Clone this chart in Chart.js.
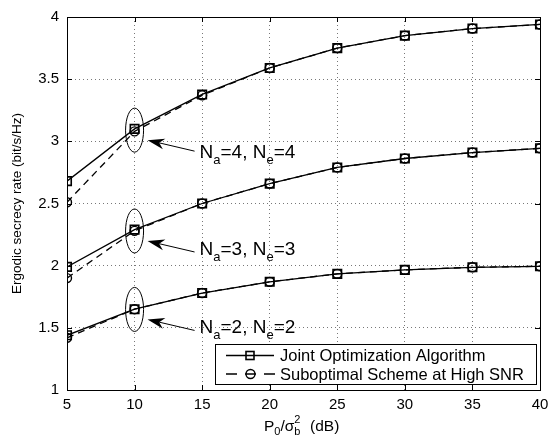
<!DOCTYPE html>
<html lang="en">
<head>
  <meta charset="UTF-8">
  <title>Ergodic secrecy rate</title>
  <script src="https://cdn.jsdelivr.net/npm/chart.js"></script>
  <style>
    body { margin: 0; background: #fff; }
    #wrap { width: 556px; height: 438px; }
  </style>
</head>
<body>
  <div id="wrap"><canvas id="rateChart" width="556" height="438"></canvas></div>

  <script>
    const snr = [5, 10, 15, 20, 25, 30, 35, 40];

    const joint4 = [2.68, 3.10, 3.377, 3.59, 3.75, 3.85, 3.907, 3.94];
    const subopt4 = [2.51, 3.08, 3.37, 3.59, 3.75, 3.85, 3.907, 3.94];
    const joint3 = [1.99, 2.29, 2.50, 2.66, 2.79, 2.862, 2.91, 2.944];
    const subopt3 = [1.90, 2.28, 2.50, 2.66, 2.79, 2.862, 2.91, 2.944];
    const joint2 = [1.44, 1.65, 1.78, 1.87, 1.934, 1.966, 1.987, 1.995];
    const subopt2 = [1.42, 1.65, 1.78, 1.87, 1.934, 1.966, 1.987, 1.995];

    const legendNames = ['Joint Optimization Algorithm', 'Suboptimal Scheme at High SNR'];
    const groupAntennas = [4, 3, 2];
    const groupCentres = [3.09, 2.279, 1.648];

    const FONT = '"Liberation Sans", Arial, sans-serif';

    function pts(ys) {
      return snr.map((x, i) => ({ x: x, y: ys[i] }));
    }

    function jointSet(ys) {
      return {
        data: pts(ys),
        borderColor: '#000',
        borderWidth: 1.3,
        pointStyle: 'rect',
        pointRadius: 6,
        pointBorderWidth: 1.6,
        pointBorderColor: '#000',
        pointBackgroundColor: 'rgba(0,0,0,0)',
        tension: 0
      };
    }

    function suboptSet(ys) {
      return {
        data: pts(ys),
        borderColor: '#000',
        borderWidth: 1.3,
        borderDash: [7, 5],
        pointStyle: 'circle',
        pointRadius: 4.5,
        pointBorderWidth: 1.4,
        pointBorderColor: '#000',
        pointBackgroundColor: 'rgba(0,0,0,0)',
        tension: 0
      };
    }

    function drawSubLabel(ctx, x, y, parts) {
      // parts: [text, isSub]
      parts.forEach(p => {
        ctx.font = (p[1] ? '13px ' : '19px ') + FONT;
        ctx.fillText(p[0], x, y + (p[1] ? 6 : 0));
        x += ctx.measureText(p[0]).width;
      });
    }

    function arrow(ctx, x0, y0, x1, y1) {
      const ang = Math.atan2(y1 - y0, x1 - x0);
      const len = 17, half = 5.5;
      const bx = x1 - len * Math.cos(ang), by = y1 - len * Math.sin(ang);
      const nx = x1 - len * 0.7 * Math.cos(ang), ny = y1 - len * 0.7 * Math.sin(ang);
      ctx.beginPath();
      ctx.moveTo(x0, y0);
      ctx.lineTo(nx, ny);
      ctx.stroke();
      ctx.beginPath();
      ctx.moveTo(x1, y1);
      ctx.lineTo(bx - half * Math.sin(ang), by + half * Math.cos(ang));
      ctx.lineTo(nx, ny);
      ctx.lineTo(bx + half * Math.sin(ang), by - half * Math.cos(ang));
      ctx.closePath();
      ctx.fill();
    }

    const decor = {
      id: 'decor',
      afterDatasetsDraw(chart) {
        const ctx = chart.ctx;
        const xs = chart.scales.x, ys = chart.scales.y;
        const a = chart.chartArea;
        ctx.save();
        ctx.strokeStyle = '#000';
        ctx.fillStyle = '#000';
        ctx.lineWidth = 1;

        // frame and inward ticks
        ctx.strokeRect(a.left + 0.5, a.top + 0.5, a.right - a.left, a.bottom - a.top);
        ctx.beginPath();
        xs.ticks.forEach(t => {
          const px = Math.round(xs.getPixelForValue(t.value)) + 0.5;
          ctx.moveTo(px, a.bottom); ctx.lineTo(px, a.bottom - 5);
          ctx.moveTo(px, a.top); ctx.lineTo(px, a.top + 5);
        });
        ys.ticks.forEach(t => {
          const py = Math.round(ys.getPixelForValue(t.value)) + 0.5;
          ctx.moveTo(a.left, py); ctx.lineTo(a.left + 5, py);
          ctx.moveTo(a.right, py); ctx.lineTo(a.right - 5, py);
        });
        ctx.stroke();

        // ellipses, arrows and group labels
        groupAntennas.forEach((n, i) => {
          const cx = xs.getPixelForValue(10);
          const cy = ys.getPixelForValue(groupCentres[i]);
          ctx.lineWidth = 1;
          ctx.beginPath();
          ctx.ellipse(cx, cy, 9, 22, 0, 0, Math.PI * 2);
          ctx.stroke();
          arrow(ctx, cx + 60, cy + 21, cx + 13, cy + 10);
          ctx.textBaseline = 'alphabetic';
          ctx.textAlign = 'left';
          const dy = i === 0 ? 28 : 24;
          drawSubLabel(ctx, cx + 65, cy + dy,
            [['N', false], ['a', true], ['=' + n + ', ', false], ['N', false], ['e', true], ['=' + n, false]]);
        });

        // legend box
        const lx = 215, ly = 344, lw = 321, lh = 40;
        ctx.fillStyle = '#fff';
        ctx.fillRect(lx, ly, lw, lh);
        ctx.lineWidth = 1;
        ctx.strokeRect(lx + 0.5, ly + 0.5, lw, lh);
        ctx.fillStyle = '#000';
        ctx.font = '16.5px ' + FONT;
        ctx.textBaseline = 'middle';
        const rows = [ly + 11.5, ly + 30];
        // joint
        ctx.lineWidth = 1.3;
        ctx.beginPath();
        ctx.moveTo(lx + 11, rows[0]); ctx.lineTo(lx + 59, rows[0]);
        ctx.stroke();
        ctx.lineWidth = 1.6;
        ctx.strokeRect(lx + 35 - 4, rows[0] - 4, 8, 8);
        // subopt
        ctx.lineWidth = 1.3;
        ctx.setLineDash([11, 8]);
        ctx.beginPath();
        ctx.moveTo(lx + 11, rows[1]); ctx.lineTo(lx + 60, rows[1]);
        ctx.stroke();
        ctx.setLineDash([]);
        ctx.lineWidth = 1.4;
        ctx.beginPath();
        ctx.arc(lx + 35.5, rows[1], 4.5, 0, Math.PI * 2);
        ctx.stroke();
        ctx.fillText(legendNames[0], lx + 65, rows[0] + 1);
        ctx.fillText(legendNames[1], lx + 65, rows[1] + 1);

        // y axis title
        ctx.save();
        ctx.translate(17, (a.top + a.bottom) / 2);
        ctx.rotate(-Math.PI / 2);
        ctx.textAlign = 'center';
        ctx.font = '13.5px ' + FONT;
        ctx.fillText('Ergodic secrecy rate (bit/s/Hz)', 0, 0);
        ctx.restore();

        // x axis title P0/σb^2 (dB)
        ctx.textAlign = 'left';
        ctx.textBaseline = 'alphabetic';
        let tx = 264, ty = 431;
        const big = '15.5px ' + FONT, small = '11px ' + FONT;
        ctx.font = big; ctx.fillText('P', tx, ty); tx += ctx.measureText('P').width;
        ctx.font = small; ctx.fillText('0', tx, ty + 4); tx += ctx.measureText('0').width;
        ctx.font = big; ctx.fillText('/\u03c3', tx, ty); tx += ctx.measureText('/\u03c3').width;
        ctx.font = small;
        ctx.fillText('2', tx, ty - 8);
        ctx.fillText('b', tx, ty + 4);
        tx += ctx.measureText('b').width;
        ctx.font = big; ctx.fillText('  (dB)', tx + 1, ty);

        ctx.restore();
      }
    };

    const ctx = document.getElementById('rateChart').getContext('2d');
    const chart = new Chart(ctx, {
      type: 'line',
      data: {
        datasets: [
          jointSet(joint4), suboptSet(subopt4),
          jointSet(joint3), suboptSet(subopt3),
          jointSet(joint2), suboptSet(subopt2)
        ]
      },
      options: {
        responsive: false,
        animation: false,
        devicePixelRatio: 1,
        layout: { padding: { top: 12, right: 16, left: 0, bottom: 0 } },
        plugins: { legend: { display: false }, tooltip: { enabled: false } },
        scales: {
          x: {
            type: 'linear',
            min: 5, max: 40,
            afterFit: s => { s.height = 48; },
            ticks: { stepSize: 5, color: '#000', padding: 6, font: { family: FONT, size: 15 } },
            grid: { color: '#555', lineWidth: 0.8, drawTicks: false },
            border: { display: false, dash: [1, 3] }
          },
          y: {
            min: 1, max: 4,
            afterFit: s => { s.width = 67; },
            ticks: { stepSize: 0.5, color: '#000', padding: 8, font: { family: FONT, size: 15 },
                     callback: v => String(v) },
            grid: { color: '#555', lineWidth: 0.8, drawTicks: false },
            border: { display: false, dash: [1, 3] }
          }
        }
      },
      plugins: [decor]
    });
  </script>
</body>
</html>
